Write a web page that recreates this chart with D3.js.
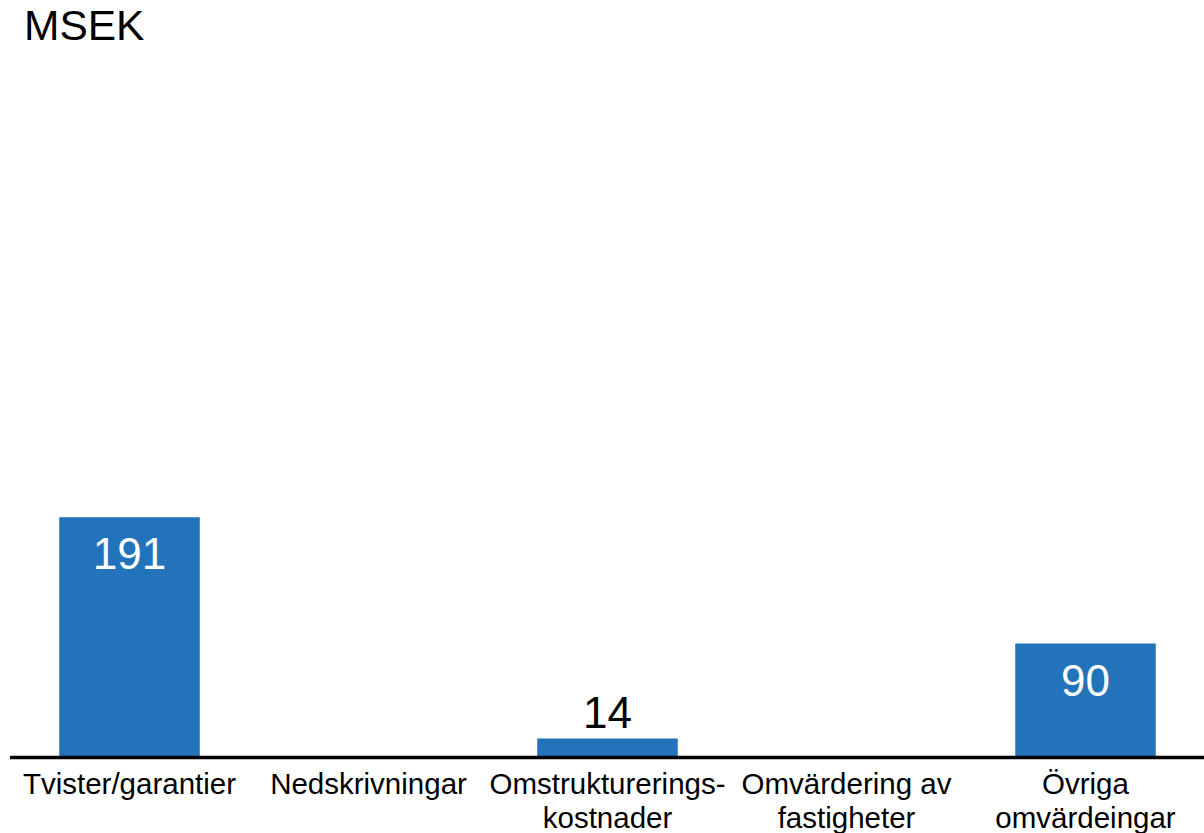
<!DOCTYPE html>
<html>
<head>
<meta charset="utf-8">
<script src="https://cdn.jsdelivr.net/npm/d3@7"></script>
<style>
  html, body { margin: 0; padding: 0; background: #fff; }
  svg { display: block; font-family: "Liberation Sans", Arial, sans-serif; }
</style>
</head>
<body>
<svg id="chart" width="1204" height="833"></svg>
<script>
const categories = [
  ["Tvister/garantier"],
  ["Nedskrivningar"],
  ["Omstrukturerings-", "kostnader"],
  ["Omvärdering av", "fastigheter"],
  ["Övriga", "omvärdeingar"]
];
const values = [191, 0, 14, 0, 90];
const unitLabel = "MSEK";

const svg = d3.select("#chart");
const W = 1204, H = 833;
const baseY = 756;

const keys = categories.map((c, i) => i);
const x = d3.scaleBand().domain(keys).range([10, 1205]).paddingInner(0.412).paddingOuter(0.206);
const y = d3.scaleLinear().domain([0, 600]).range([baseY, 6]);

const blue = "#2373BB";

// bars
svg.selectAll("rect.bar")
  .data(values)
  .join("rect")
  .attr("class", "bar")
  .attr("x", (d, i) => x(i))
  .attr("width", x.bandwidth())
  .attr("y", d => y(d))
  .attr("height", d => y(0) - y(d))
  .attr("fill", blue);

// baseline axis
svg.append("line")
  .attr("x1", 10).attr("x2", W)
  .attr("y1", baseY + 1.5).attr("y2", baseY + 1.5)
  .attr("stroke", "#000").attr("stroke-width", 3.5);

// value labels
svg.selectAll("text.val")
  .data(values.map((v, i) => ({v, i})).filter(d => d.v > 0))
  .join("text")
  .attr("class", "val")
  .attr("x", d => x(d.i) + x.bandwidth() / 2)
  .attr("y", d => (y(0) - y(d.v)) > 60 ? y(d.v) + 52 : y(d.v) - 11)
  .attr("text-anchor", "middle")
  .attr("font-size", 44)
  .attr("fill", d => (y(0) - y(d.v)) > 60 ? "#fff" : "#000")
  .text(d => d.v);

// category labels
const cat = svg.selectAll("text.cat")
  .data(categories)
  .join("text")
  .attr("class", "cat")
  .attr("text-anchor", "middle")
  .attr("font-size", 29.5)
  .attr("fill", "#000");
cat.selectAll("tspan")
  .data((d, i) => d.map(line => ({line, i})))
  .join("tspan")
  .attr("x", d => x(d.i) + x.bandwidth() / 2)
  .attr("y", (d, j) => 794 + j * 34)
  .text(d => d.line);

// unit label
svg.append("text")
  .attr("x", 24).attr("y", 39.5)
  .attr("font-size", 42.5)
  .attr("fill", "#000")
  .text(unitLabel);
</script>
</body>
</html>
